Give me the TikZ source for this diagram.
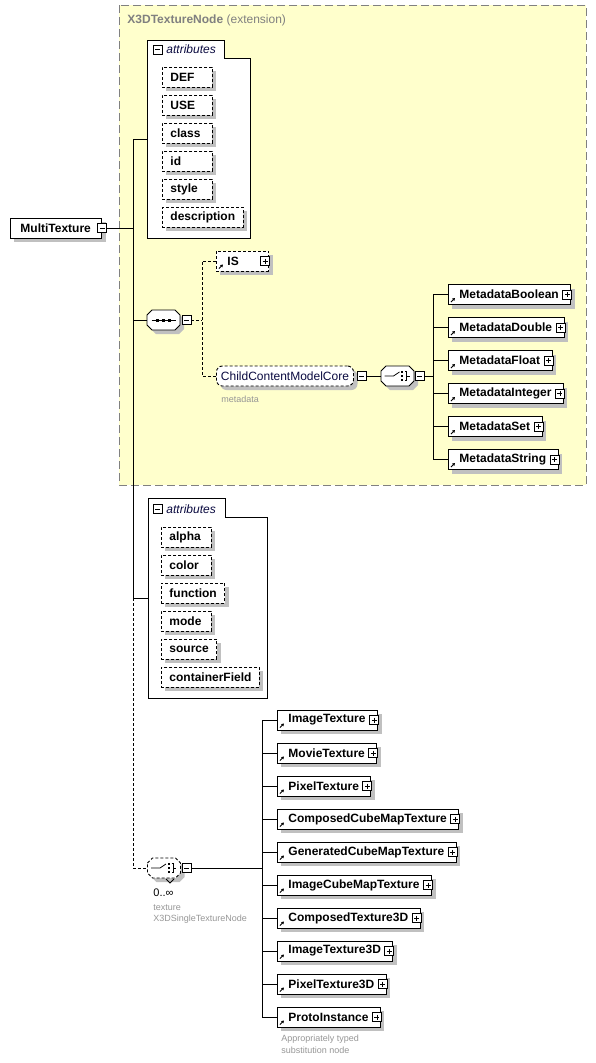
\documentclass[tikz,border=0pt]{standalone}
\usepackage{fontspec}
\setmainfont{Liberation Sans}
\usetikzlibrary{shadows,arrows.meta,calc}

\definecolor{extfill}{RGB}{255,255,204}
\definecolor{extline}{RGB}{128,128,128}
\definecolor{shade}{RGB}{192,192,192}
\definecolor{notegray}{RGB}{150,150,150}
\definecolor{navy}{RGB}{10,10,64}

\newlength\atw
\newcommand{\atxt}[1]{\settowidth{\atw}{#1}\ifdim\atw<34pt\atw=34pt\fi\makebox[\atw][l]{#1}}
\newcommand{\octshape}[1][]{\draw[fill=white,shad,#1] (-16.5,-5) -- (-11.5,-10) -- (11.5,-10) -- (16.5,-5)
  -- (16.5,5) -- (11.5,10) -- (-11.5,10) -- (-16.5,5) -- cycle;}

\tikzset{
  shad/.style={general shadow={fill=shade,shadow xshift=4pt,shadow yshift=-4pt}},
  box/.style={draw,fill=white,shad,anchor=west,minimum height=20pt,inner ysep=0pt,
    font=\bfseries\fontsize{12}{14}\selectfont},
  topel/.style={box,inner xsep=4pt,execute at begin node=\hspace{6pt},execute at end node=\hspace{7pt}},
  ref/.style={box,inner xsep=4pt,execute at begin node=\hspace{7pt},execute at end node=\hspace{8pt},
    path picture={\draw[solid,line width=0.8pt,-{Triangle[length=2.5pt,width=3pt]}]
      ([xshift=2.5pt,yshift=2.5pt]path picture bounding box.south west) -- ++(4pt,4pt);}},
  attr/.style={box,dashed,inner xsep=8pt},
  xbox/.style={draw,solid,fill=white,rectangle,minimum size=9pt,inner sep=0pt,line width=0.8pt},
  minusb/.style={xbox,path picture={\draw ([xshift=2pt]path picture bounding box.west) -- ([xshift=-2pt]path picture bounding box.east);}},
  plusb/.style={xbox,path picture={\draw ([xshift=2pt]path picture bounding box.west) -- ([xshift=-2pt]path picture bounding box.east);
    \draw ([yshift=-2pt]path picture bounding box.north) -- ([yshift=2pt]path picture bounding box.south);}},
  octo/.style={minimum width=33pt,minimum height=20pt,inner sep=0pt},
  group/.style={draw,fill=white,shad,dashed,rounded corners=6pt,anchor=west,minimum height=20pt,
    inner ysep=0pt,inner xsep=4.5pt,text=navy,font=\fontsize{12}{14}\selectfont},
  note/.style={anchor=west,inner sep=0pt,text=notegray,font=\fontsize{9}{10.5}\selectfont},
  grptitle/.style={anchor=west,inner sep=0pt,text=navy,font=\itshape\fontsize{12}{14}\selectfont},
}

\begin{document}
\begin{tikzpicture}[x=1pt,y=-1pt,line width=0.9pt,
    dashed/.style={dash pattern=on 3pt off 2pt}]
  \useasboundingbox (0,0) rectangle (596,1063);

  % extension area
  \draw[extline,fill=extfill,dash pattern=on 8pt off 4pt] (119,5) rectangle (586,485);
  \node[anchor=west,inner sep=0pt,text=extline,font=\bfseries\fontsize{12}{14}\selectfont]
    (extT) at (127,20) {X3DTextureNode \mdseries(extension)};

  % attribute groups
  \draw[fill=white] (147,40) -- (224,40) -- (224,58) -- (250,58) -- (250,238) -- (147,238) -- cycle;
  \node[minusb] (atAX) at (157.5,49.5) {};
  \node[grptitle] (atAT) at (166,49.5) {attributes};
  \coordinate (atA) at (147,139);

  \draw[fill=white] (148,498) -- (225,498) -- (225,517) -- (267,517) -- (267,698) -- (148,698) -- cycle;
  \node[minusb] (atBX) at (157.5,509) {};
  \node[grptitle] (atBT) at (166,509) {attributes};
  \coordinate (atB) at (148,598);

  \node[attr] (aDEF) at (162,77) {\atxt{DEF}};
  \node[attr] (aUSE) at (162,105) {\atxt{USE}};
  \node[attr] (aClass) at (162,133) {\atxt{class}};
  \node[attr] (aId) at (162,161) {\atxt{id}};
  \node[attr] (aStyle) at (162,189) {\atxt{style}};
  \node[attr] (aDesc) at (162,217) {\atxt{description}};

  \node[attr] (aAlpha) at (161,537) {\atxt{alpha}};
  \node[attr] (aColor) at (161,565) {\atxt{color}};
  \node[attr] (aFunction) at (161,593) {\atxt{function}};
  \node[attr] (aMode) at (161,621) {\atxt{mode}};
  \node[attr] (aSource) at (161,649) {\atxt{source}};
  \node[attr] (aCField) at (161,677) {\atxt{containerField}};

  % root element
  \node[topel] (mt) at (10,228) {MultiTexture};
  \node[minusb] (mtX) at (mt.east) {};

  % sequence with IS and metadata
  \node[octo] (seq) at (163.5,320) {};
  \begin{scope}[shift={(seq.center)},line width=0.8pt]
    \octshape
    \draw (-12,0) -- (12,0);
    \foreach \dx in {-6,0,6} \fill (\dx-1.5,-1.5) rectangle ++(3,3);
  \end{scope}
  \node[minusb] (seqX) at (186.5,320) {};

  \node[ref,dashed] (is) at (216,261) {IS\kern18pt};
  \node[plusb] (isX) at ([xshift=-4pt]is.east) {};
  \node[group] (ccmc) at (216,376) {ChildContentModelCore};
  \node[minusb] (ccmcX) at ([xshift=7.5pt]ccmc.east) {};
  \node[note] (ccmcN) at (221,399) {metadata};

  \node[octo] (chc) at (397.5,376) {};
  \begin{scope}[shift={(chc.center)},line width=0.8pt]
    \octshape
    \draw (-13,0) -- (-4,0) -- (2,-4);
    \foreach \dy in {-4,0,4} \fill (3.5,\dy-1.2) rectangle ++(2.4,2.4);
    \draw (7.5,-4.5) -- (9,-4.5) -- (9,4.5) -- (7.5,4.5) (9,0) -- (12,0);
  \end{scope}
  \node[minusb] (chcX) at (419.5,376) {};

  \node[ref] (mdBool) at (448,294.5) {MetadataBoolean};
  \node[ref] (mdDouble) at (448,327.5) {MetadataDouble};
  \node[ref] (mdFloat) at (448,360.5) {MetadataFloat};
  \node[ref] (mdInteger) at (448,393.5) {MetadataInteger};
  \node[ref] (mdSet) at (448,426.5) {MetadataSet};
  \node[ref] (mdString) at (448,459.5) {MetadataString};

  % texture choice
  \node[octo] (tex) at (164,868) {};
  \begin{scope}[shift={(tex.center)},line width=0.8pt]
    \octshape[dashed]
    \draw (-13,0) -- (-4,0) -- (2,-4);
    \foreach \dy in {-4,0,4} \fill (3.5,\dy-1.2) rectangle ++(2.4,2.4);
    \draw (7.5,-4.5) -- (9,-4.5) -- (9,4.5) -- (7.5,4.5) (9,0) -- (12,0);
    \draw (2,11) -- (6,15) -- (10,11);
  \end{scope}
  \node[minusb] (texX) at (186.5,868) {};
  \node[anchor=west,inner sep=0pt,font=\fontsize{11}{13}\selectfont] (texN) at (153,893) {0..∞};
  \node[note] (texR) at (153,908) {texture};
  \node[note] (texT) at (153,919) {X3DSingleTextureNode};

  \node[ref] (texImg) at (277,720) {ImageTexture};
  \node[ref] (texMovie) at (277,753) {MovieTexture};
  \node[ref] (texPixel) at (277,786) {PixelTexture};
  \node[ref] (texCCube) at (277,819) {ComposedCubeMapTexture};
  \node[ref] (texGCube) at (277,852) {GeneratedCubeMapTexture};
  \node[ref] (texICube) at (277,885) {ImageCubeMapTexture};
  \node[ref] (texC3D) at (277,918) {ComposedTexture3D};
  \node[ref] (texI3D) at (277,951) {ImageTexture3D};
  \node[ref] (texP3D) at (277,984) {PixelTexture3D};
  \node[ref] (texProto) at (277,1017) {ProtoInstance};
  \node[note] (protoN) at (281,1039) {Appropriately typed};
  \node[note] (protoM) at (281,1050) {substitution node};

  \foreach \n in {mdBool,mdDouble,mdFloat,mdInteger,mdSet,mdString,
      texImg,texMovie,texPixel,texCCube,texGCube,texICube,texC3D,texI3D,texP3D,texProto}
    \node[plusb] (\n-x) at ([xshift=-4pt]\n.east) {};

  % connectors
  \coordinate (bus) at (133,139);
  \draw (atA) -- (bus) -- (bus |- atB) -- (atB);
  \draw (mtX.east) -- (mtX.east -| bus);
  \draw (seq.west) -- (seq.west -| bus);
  \draw[dashed] (bus |- atB) |- (tex.west);

  \coordinate (seqbus) at (202,261);
  \draw[dashed] (is.west) -- (seqbus) |- (ccmc.west);
  \draw[dashed] (seqX.east) -- (seqX.east -| seqbus);
  \draw (ccmcX.east) -- (chc.west);

  \coordinate (mdbus) at (433,294.5);
  \draw (mdBool.west) -- (mdbus) |- (mdString.west);
  \draw (chcX.east) -- (chcX.east -| mdbus);
  \foreach \n in {mdDouble,mdFloat,mdInteger,mdSet}
    \draw (\n.west) -- (\n.west -| mdbus);

  \coordinate (texbus) at (262,720);
  \draw (texImg.west) -- (texbus) |- (texProto.west);
  \draw (texX.east) -- (texX.east -| texbus);
  \foreach \n in {texMovie,texPixel,texCCube,texGCube,texICube,texC3D,texI3D,texP3D}
    \draw (\n.west) -- (\n.west -| texbus);
\end{tikzpicture}
\end{document}
